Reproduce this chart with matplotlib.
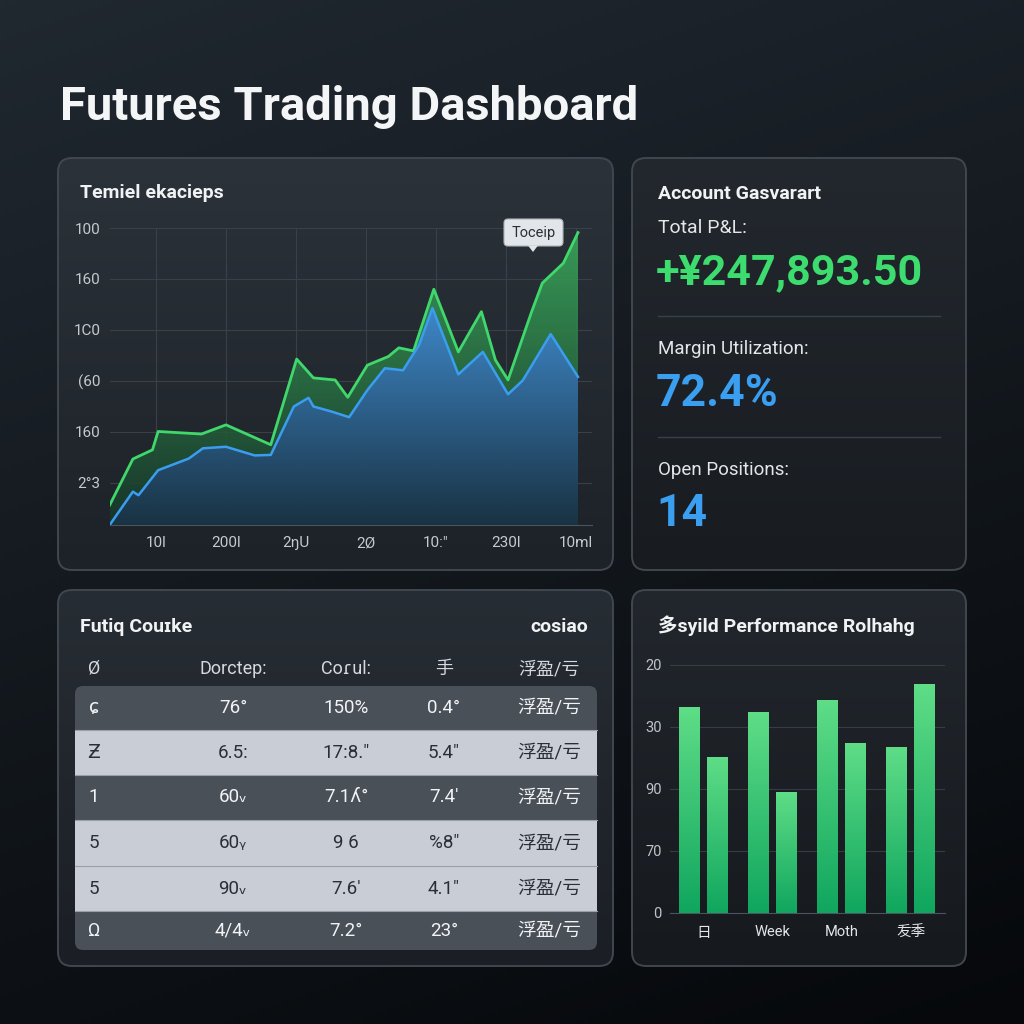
import numpy as np
import matplotlib
matplotlib.use("Agg")
import matplotlib.pyplot as plt
from matplotlib.patches import FancyBboxPatch, Polygon, Rectangle
from matplotlib.colors import LinearSegmentedColormap

plt.rcParams['font.family'] = ['Roboto', 'Noto Sans CJK SC', 'DejaVu Sans']

# *
# Data
# *
title = "Futures Trading Dashboard"

line_title = "Temiel ekacieps"
line_xticks = [0, 1, 2, 3, 4, 5, 6]
line_xlabels = ["10l", "200l", "2ŋU", "2Ø", "10:\"", "230l", "10ml"]
line_yticks = [1, 2, 3, 4, 5, 6]
line_ylabels = ["2°3", "160", "(60", "1C0", "160", "100"]
green_x = [-0.66, -0.33, -0.05, 0.03, 0.65, 1.0, 1.64, 2.01, 2.25, 2.56, 2.74, 3.02,
           3.32, 3.47, 3.68, 3.97, 4.32, 4.65, 4.85, 5.03, 5.36, 5.52, 5.82, 6.03]
green_y = [0.57, 1.47, 1.65, 2.01, 1.96, 2.14, 1.75, 3.43, 3.06, 3.02, 2.68, 3.31,
           3.48, 3.65, 3.59, 4.80, 3.57, 4.36, 3.41, 3.02, 4.33, 4.92, 5.31, 5.91]
blue_x = [-0.66, -0.33, -0.25, 0.03, 0.47, 0.67, 1.0, 1.41, 1.64, 1.97, 2.18, 2.25,
          2.51, 2.76, 3.02, 3.27, 3.53, 3.76, 3.95, 4.32, 4.67, 5.03, 5.24, 5.64, 6.03]
blue_y = [0.18, 0.83, 0.76, 1.25, 1.48, 1.68, 1.71, 1.54, 1.55, 2.50, 2.67, 2.50,
          2.40, 2.29, 2.82, 3.25, 3.21, 3.71, 4.43, 3.13, 3.57, 2.74, 3.01, 3.92, 3.08]
tooltip_text = "Toceip"

account_title = "Account Gasvarart"
pnl_label = "Total P&L:"
pnl_value = "+¥247,893.50"
margin_label = "Margin Utilization:"
margin_value = "72.4%"
positions_label = "Open Positions:"
positions_value = "14"

table_title = "Futiq Couɪke"
table_right = "cosiao"
table_header = ["Ø", "Dorctep:", "Coɾul:", "手", "浮盈/亏"]
table_rows = [
    ["ɕ", "76°", "150%", "0.4°", "浮盈/亏"],
    ["Ƶ", "6.5:", "17:8.″", "5.4″", "浮盈/亏"],
    ["1", "60ᵥ", "7.1ʎ°", "7.4′", "浮盈/亏"],
    ["5", "60ᵧ", "9 6", "%8″", "浮盈/亏"],
    ["5", "90ᵥ", "7.6′", "4.1″", "浮盈/亏"],
    ["Ω", "4/4ᵥ", "7.2°", "23°", "浮盈/亏"],
]
row_light = [False, True, False, True, True, False]

perf_title = "多syild Performance Rolhahg"
perf_groups = ["日", "Week", "Moth", "叐季"]
perf_a = [3.32, 3.24, 3.44, 2.68]
perf_b = [2.52, 1.95, 2.74, 3.69]
perf_yticks = [0, 1, 2, 3, 4]
perf_ylabels = ["0", "70", "90", "30", "20"]

W = 1024


def px(x0, y0, x1, y1):
    return [x0 / W, 1 - y1 / W, (x1 - x0) / W, (y1 - y0) / W]


def grad(ax, clip, extent, c_top, c_bot, z, alpha=1.0):
    cmap = LinearSegmentedColormap.from_list("g", [c_top, c_bot])
    im = ax.imshow(np.linspace(0, 1, 256).reshape(-1, 1), cmap=cmap, extent=extent,
                   aspect='auto', zorder=z, alpha=alpha, interpolation='bilinear')
    im.set_clip_path(clip)
    return im


fig = plt.figure(figsize=(10.24, 10.24), dpi=100)

# background + panels
bg = fig.add_axes([0, 0, 1, 1])
bg.axis('off')
yy, xx = np.mgrid[0:1:256j, 0:1:256j]
shade = 0.75 * (1 - yy) + 0.25 * (1 - xx)
bg_cmap = LinearSegmentedColormap.from_list("bg", ["#06080b", "#202830"])
bg.imshow(shade, cmap=bg_cmap, extent=(0, W, W, 0), aspect='auto', zorder=0)

panels = [
    ((58, 158, 613, 570), "#2b3239", "#1d2228"),
    ((632, 158, 966, 570), "#23282e", "#181c21"),
    ((58, 590, 613, 966), "#272d34", "#1b1f25"),
    ((632, 590, 966, 966), "#22272d", "#16191e"),
]
for (x0, y0, x1, y1), ct, cb in panels:
    p = FancyBboxPatch((x0, y0), x1 - x0, y1 - y0, boxstyle="round,pad=0,rounding_size=14",
                       facecolor="none", edgecolor="#40474f", lw=1.4, zorder=3)
    bg.add_patch(p)
    grad(bg, p, (x0, x1, y1, y0), ct, cb, 2)

bg.text(60, 120, title, color="#f4f5f7", fontsize=34, fontweight='bold', va='baseline', zorder=5)

# panel 1 title
bg.text(80, 198, line_title, color="#f0f2f4", fontsize=14, fontweight='bold', va='baseline', zorder=5)

# panel 2 texts
bg.text(658, 199, account_title, color="#f0f2f4", fontsize=14, fontweight='bold', va='baseline', zorder=5)
bg.text(658, 233, pnl_label, color="#e4e6ea", fontsize=14, va='baseline', zorder=5)
bg.text(656, 284, pnl_value, color="#3ddc6e", fontsize=31, fontweight='bold', va='baseline', zorder=5)
bg.plot([658, 940], [316, 316], color="#3a4047", lw=1, zorder=5)
bg.text(658, 354, margin_label, color="#e4e6ea", fontsize=13.5, va='baseline', zorder=5)
bg.text(656, 406, margin_value, color="#3a9ff0", fontsize=32, fontweight='bold', va='baseline', zorder=5)
bg.plot([658, 940], [437, 437], color="#3a4047", lw=1, zorder=5)
bg.text(658, 475, positions_label, color="#e4e6ea", fontsize=13.5, va='baseline', zorder=5)
bg.text(656, 526, positions_value, color="#3a9ff0", fontsize=32, fontweight='bold', va='baseline', zorder=5)

# panel 3 table
bg.text(80, 632, table_title, color="#f0f2f4", fontsize=14, fontweight='bold', va='baseline', zorder=5)
bg.text(588, 632, table_right, color="#f0f2f4", fontsize=14, fontweight='bold', va='baseline', ha='right', zorder=5)
col_x = [94, 233, 346, 444, 549]
for j, h in enumerate(table_header):
    bg.text(col_x[j], 669, h, color="#d6d9de", fontsize=13, ha='center', va='center', zorder=5)

row_edges = [686, 730, 775, 820, 866, 911, 950]
block = FancyBboxPatch((75, 686), 522, 264, boxstyle="round,pad=0,rounding_size=8",
                       facecolor="#4a5058", edgecolor="none", zorder=4)
bg.add_patch(block)
for i, row in enumerate(table_rows):
    y0, y1 = row_edges[i], row_edges[i + 1]
    if row_light[i]:
        bg.add_patch(Rectangle((75, y0), 522, y1 - y0, facecolor="#c9ced6", edgecolor="none", zorder=4.2))
        tc = "#2a2e35"
    else:
        tc = "#f2f3f5"
    if i > 0:
        bg.plot([75, 597], [y0, y0], color="#9aa0a8", lw=0.8, zorder=4.5)
    yc = (y0 + y1) / 2
    for j, cell in enumerate(row):
        bg.text(col_x[j], yc, cell, color=tc, fontsize=13.5, ha='center', va='center', zorder=5)

# panel 4 title
bg.text(658, 632, perf_title, color="#f0f2f4", fontsize=14, fontweight='bold', va='baseline', zorder=5)

bg.set_xlim(0, W)
bg.set_ylim(W, 0)

# *
# Line / area chart
# *
ax1 = fig.add_axes(px(110, 228, 592, 525))
ax1.set_facecolor("none")
ymin, ymax = 0.176, 6.0
gpoly = Polygon(list(zip(green_x, green_y)) + [(green_x[-1], ymin), (green_x[0], ymin)],
                closed=True, transform=ax1.transData)
bpoly = Polygon(list(zip(blue_x, blue_y)) + [(blue_x[-1], ymin), (blue_x[0], ymin)],
                closed=True, transform=ax1.transData)
grad(ax1, gpoly, (green_x[0], green_x[-1], ymin, max(green_y)), "#3aa65a", "#17362a", 2, 0.9)
grad(ax1, bpoly, (blue_x[0], blue_x[-1], ymin, max(blue_y)), "#3f88cf", "#1a3345", 3, 0.95)
ax1.plot(green_x, green_y, color="#40d86c", lw=2, zorder=4)
ax1.plot(blue_x, blue_y, color="#3a9ef0", lw=1.8, zorder=5)
ax1.set_xlim(-0.657, 6.23)
ax1.set_ylim(ymin, ymax)
ax1.set_xticks(line_xticks)
ax1.set_xticklabels(line_xlabels)
ax1.set_yticks(line_yticks)
ax1.set_yticklabels(line_ylabels)
ax1.grid(color="#38404a", lw=0.8)
ax1.set_axisbelow(True)
for s in ['top', 'right', 'left']:
    ax1.spines[s].set_visible(False)
ax1.spines['bottom'].set_color("#4b535c")
ax1.tick_params(length=0, colors="#c5cad0", labelsize=11)
ax1.tick_params(axis='y', pad=7)
ax1.tick_params(axis='x', pad=8)

# *
# Bar chart
# *
ax2 = fig.add_axes(px(670, 649.5, 945, 913))
ax2.set_facecolor("none")
gx = np.arange(len(perf_groups))
for vals, off in ((perf_a, -0.2), (perf_b, 0.2)):
    bars = ax2.bar(gx + off, vals, width=0.3, color="#2cc06a", zorder=3)
    for b in bars:
        x0 = b.get_x()
        grad(ax2, b, (x0, x0 + b.get_width(), 0, b.get_height()), "#5fdd87", "#10a65e", 4)
ax2.set_xlim(-0.486, 3.5)
ax2.set_ylim(0, 4.25)
ax2.set_xticks(gx)
ax2.set_xticklabels(perf_groups, color="#e4e6ea", fontsize=12.5)
ax2.set_yticks(perf_yticks)
ax2.set_yticklabels(perf_ylabels)
ax2.grid(axis='y', color="#363c44", lw=0.8)
ax2.set_axisbelow(True)
for s in ['top', 'right', 'left']:
    ax2.spines[s].set_visible(False)
ax2.spines['bottom'].set_color("#4b535c")
ax2.tick_params(length=0, labelsize=10.5)
ax2.tick_params(axis='y', colors="#c0c4ca", pad=6)
ax2.tick_params(axis='x', pad=9)

# *
# Tooltip overlay
# *
ov = fig.add_axes([0, 0, 1, 1], zorder=10)
ov.axis('off')
ov.set_facecolor("none")
tip = FancyBboxPatch((504, 219), 59, 27, boxstyle="round,pad=0,rounding_size=4",
                     facecolor="#e2e5e9", edgecolor="#aeb3b9", lw=0.8)
ov.add_patch(tip)
ov.add_patch(Polygon([(528, 245.5), (538, 245.5), (533, 252)], closed=True,
                     facecolor="#e2e5e9", edgecolor="none"))
ov.text(533.5, 233, tooltip_text, color="#2c3036", fontsize=10.5, ha='center', va='center')
ov.set_xlim(0, W)
ov.set_ylim(W, 0)

fig.savefig("out.png", dpi=100)
